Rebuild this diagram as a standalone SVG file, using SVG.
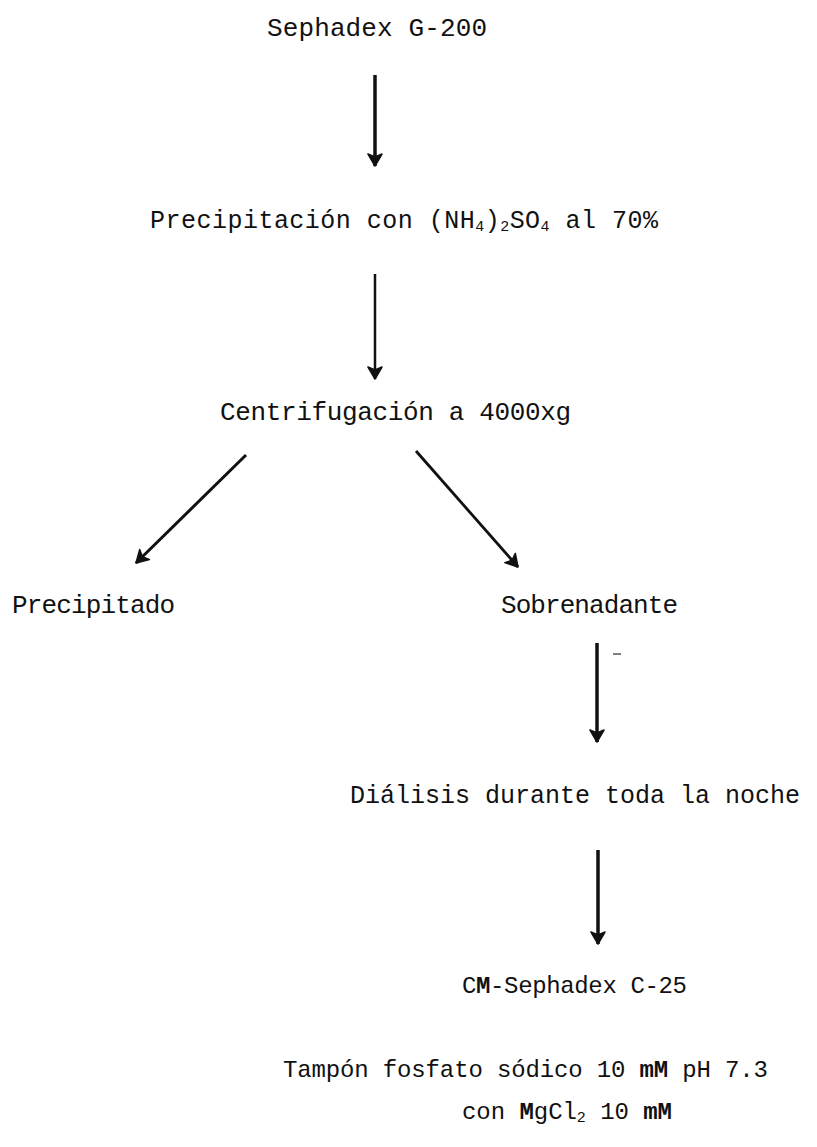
<svg xmlns="http://www.w3.org/2000/svg" width="817" height="1147" viewBox="0 0 817 1147">
<style>
.t{font-family:"Liberation Mono","DejaVu Sans Mono",monospace;fill:#111;}
.c{font-family:"Liberation Mono","DejaVu Sans Mono",monospace;fill:#111;}
.sub{font-size:15px;}
.b{font-weight:bold;}
.a{stroke:#111;fill:none;stroke-linecap:butt;}
</style>
<defs>
<marker id="ah" viewBox="0 0 16 16" refX="13" refY="8" markerWidth="16" markerHeight="16" markerUnits="userSpaceOnUse" orient="auto">
<path d="M1,1 L13,8 L1,15 L4,8 z" fill="#111" stroke="#111" stroke-width="1.5" stroke-linejoin="round"/>
</marker>
</defs>
<rect width="817" height="1147" fill="#fff"/>
<g id="connectors">
<line class="a" x1="375" y1="75" x2="375" y2="166" stroke-width="3.5" marker-end="url(#ah)"/>
<line class="a" x1="375" y1="274" x2="375" y2="379" stroke-width="2.5" marker-end="url(#ah)"/>
<line class="a" x1="246" y1="455" x2="136" y2="563" stroke-width="3" marker-end="url(#ah)"/>
<line class="a" x1="416" y1="451" x2="518" y2="567" stroke-width="2.8" marker-end="url(#ah)"/>
<line class="a" x1="597" y1="643" x2="597" y2="742" stroke-width="3.5" marker-end="url(#ah)"/>
<line class="a" x1="598" y1="850" x2="598" y2="944" stroke-width="3.5" marker-end="url(#ah)"/>
<line x1="613" y1="654" x2="621" y2="654" stroke="#555" stroke-width="1.5"/>
</g>
<g id="n-sephadex">
<text class="t" x="267" y="36" font-size="26" textLength="220" lengthAdjust="spacing">Sephadex G-200</text>
</g>
<g id="n-precipitacion">
<text class="t" x="150" y="228" font-size="25" textLength="508" lengthAdjust="spacing">Precipitación con (NH<tspan class="sub" dy="3">4</tspan><tspan dy="-3">)</tspan><tspan class="sub" dy="3">2</tspan><tspan dy="-3">SO</tspan><tspan class="sub" dy="3">4</tspan><tspan dy="-3"> al 70%</tspan></text>
</g>
<g id="n-centrifugacion">
<text class="c" x="220" y="420" font-size="26" textLength="351" lengthAdjust="spacing">Centrifugación a 4000xg</text>
</g>
<g id="n-precipitado">
<text class="c" x="12" y="613" font-size="26" textLength="163" lengthAdjust="spacing">Precipitado</text>
</g>
<g id="n-sobrenadante">
<text class="c" x="501" y="613" font-size="26" textLength="177" lengthAdjust="spacing">Sobrenadante</text>
</g>
<g id="n-dialisis">
<text class="t" x="350" y="803" font-size="25" textLength="450" lengthAdjust="spacing">Diálisis durante toda la noche</text>
</g>
<g id="n-cm">
<text class="t" x="462" y="993" font-size="24" textLength="225" lengthAdjust="spacing">C<tspan class="b">M</tspan>-Sephadex C-25</text>
</g>
<g id="n-tampon">
<text class="t" x="283" y="1077" font-size="24" textLength="485" lengthAdjust="spacing">Tampón fosfato sódico 10 <tspan class="b">mM</tspan> pH 7.3</text>
<text class="t" x="462" y="1119" font-size="24" textLength="210" lengthAdjust="spacing">con <tspan class="b">M</tspan>gCl<tspan class="sub" dy="3">2</tspan><tspan dy="-3"> 10 </tspan><tspan class="b">mM</tspan></text>
</g>
</svg>
